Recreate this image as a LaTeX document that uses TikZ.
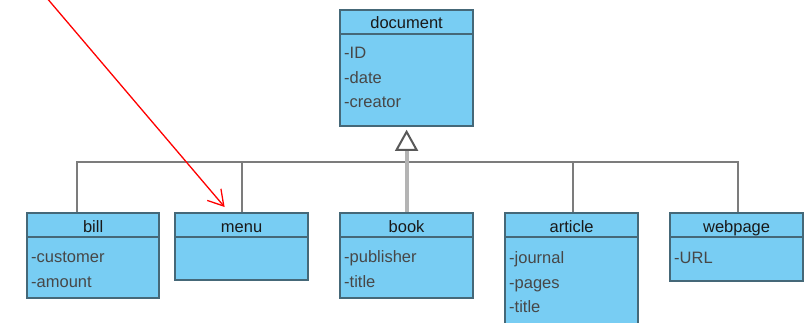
\documentclass[tikz,border=0pt]{standalone}
\usepackage{fontspec}
\setmainfont{Liberation Sans}
\usetikzlibrary{arrows.meta,shapes.geometric}
\definecolor{clsfill}{HTML}{78CDF3}
\definecolor{clsline}{HTML}{456878}
\definecolor{connc}{HTML}{7C7C7C}
\definecolor{genc}{HTML}{B4B4B4}
\begin{document}
\begin{tikzpicture}[x=1pt,y=-1pt,
  cls/.style={draw=clsline, line width=2.2pt, fill=clsfill, anchor=north west, inner sep=0pt},
  sep/.style={draw=clsline, line width=2pt},
  ttl/.style={font=\fontsize{16.5}{18}\selectfont, text=black!90, inner sep=0pt, text height=11.5pt, text depth=3.5pt},
  attr/.style={font=\fontsize{16.5}{18}\selectfont, text=black!72, anchor=west, inner sep=0pt, text height=11.5pt, text depth=3.5pt},
  conn/.style={draw=connc, line width=2pt},
  genline/.style={draw=genc, line width=4pt},
]
\useasboundingbox (0,0) rectangle (805,323);

% class boxes
\node[cls, minimum width=133pt, minimum height=116pt] (doc) at (339,9) {};
\node[cls, minimum width=132pt, minimum height=85pt] (bill) at (26,212) {};
\node[cls, minimum width=133pt, minimum height=67pt] (menu) at (174,212) {};
\node[cls, minimum width=133pt, minimum height=85pt] (book) at (339,212) {};
\node[cls, minimum width=133pt, minimum height=120pt] (article) at (504,212) {};
\node[cls, minimum width=133pt, minimum height=68pt] (webpage) at (669,212) {};

% header separators
\foreach \n in {doc,bill,menu,book,article,webpage}{
  \draw[sep] ([yshift=-25pt]\n.north west) -- ([yshift=-25pt]\n.north east);
}

% titles
\node[ttl] (docT) at ([yshift=-16pt]doc.north) {document};
\node[ttl] (billT) at ([yshift=-16pt]bill.north) {bill};
\node[ttl] (menuT) at ([yshift=-16pt]menu.north) {menu};
\node[ttl] (bookT) at ([yshift=-16pt]book.north) {book};
\node[ttl] (articleT) at ([yshift=-16pt]article.north) {article};
\node[ttl] (webpageT) at ([yshift=-16pt]webpage.north) {webpage};

% attributes
\node[attr] (docA1) at ([xshift=5pt,yshift=-46pt]doc.north west) {-ID};
\node[attr] (docA2) at ([xshift=5pt,yshift=-71pt]doc.north west) {-date};
\node[attr] (docA3) at ([xshift=5pt,yshift=-95pt]doc.north west) {-creator};
\node[attr] (billA1) at ([xshift=5pt,yshift=-46pt]bill.north west) {-customer};
\node[attr] (billA2) at ([xshift=5pt,yshift=-71pt]bill.north west) {-amount};
\node[attr] (bookA1) at ([xshift=5pt,yshift=-46pt]book.north west) {-publisher};
\node[attr] (bookA2) at ([xshift=5pt,yshift=-71pt]book.north west) {-title};
\node[attr] (articleA1) at ([xshift=5pt,yshift=-47pt]article.north west) {-journal};
\node[attr] (articleA2) at ([xshift=5pt,yshift=-72pt]article.north west) {-pages};
\node[attr] (articleA3) at ([xshift=5pt,yshift=-96pt]article.north west) {-title};
\node[attr] (webpageA1) at ([xshift=5pt,yshift=-47pt]webpage.north west) {-URL};

% generalization
\coordinate (bus) at (406,162);
\node[isosceles triangle, shape border rotate=90, isosceles triangle stretches,
      draw=black!65, line width=2pt, fill=white, minimum height=18pt, minimum width=20pt,
      inner sep=0pt, anchor=apex] (tri) at ([yshift=-2pt]doc.south) {};
\draw[conn] ([xshift=-16pt]bill.north) |- (bus);
\draw[conn] (menu.north) -- (menu.north |- bus);
\draw[conn] ([xshift=1.5pt]article.north) |- (bus);
\draw[conn] ([xshift=1.5pt]webpage.north) |- (bus);
\draw[genline] (book.north) -- (tri.south);

% red pointer
\coordinate (redS) at (46,-3);
\coordinate (redE) at ([xshift=-17pt,yshift=5pt]menu.north);
\draw[red, line width=1.3pt, -{Straight Barb[length=15pt,width=18pt,line width=1.3pt]}] (redS) -- (redE);
\end{tikzpicture}
\end{document}
